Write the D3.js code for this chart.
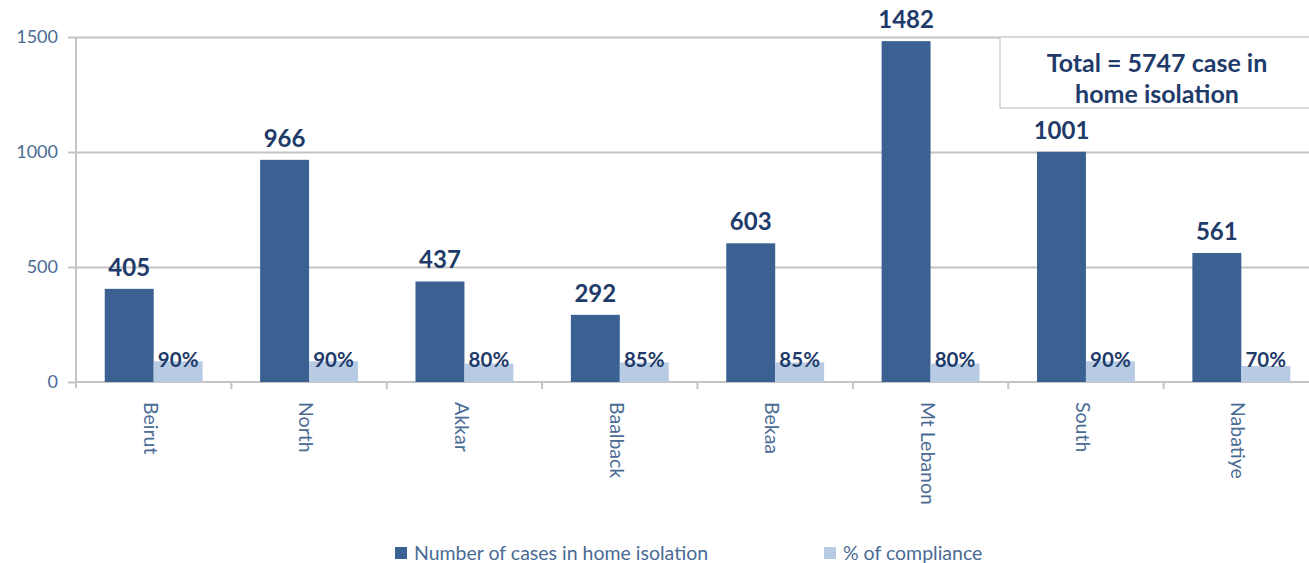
<html>
  <head>
    <style>
      body { margin: 0; background: #fff; }
      text { font-family: Lato, "Open Sans", sans-serif; }
    </style>
  </head>
  <body>
    <svg id="container" height="563" width="1309"></svg>
  </body>
  <script src="https://cdn.jsdelivr.net/npm/d3@7"></script>
  <script>
    let regions = ["Beirut", "North", "Akkar", "Baalback", "Bekaa", "Mt Lebanon", "South", "Nabatiye"];
    let casesInIsolation = [405, 966, 437, 292, 603, 1482, 1001, 561];
    let compliancePct = [90, 90, 80, 85, 85, 80, 90, 70];
    let yTicks = [0, 500, 1000, 1500];
    let seriesNames = ["Number of cases in home isolation", "% of compliance"];
    let totalNote = ["Total = 5747 case in", "home isolation"];

    let svg = d3.select("#container");
    let darkBlue = "#3a6191";
    let lightBlue = "#b7cbe4";
    let navy = "#1f3b6a";
    let axisText = "#4a6b94";
    let gridColor = "#c4c4c4";

    let plotLeft = 76, plotRight = 1319, plotTop = 37, plotBottom = 382;

    let xScale = d3.scaleBand()
        .domain(regions)
        .range([plotLeft, plotRight])
        .paddingInner(0.37)
        .paddingOuter(0.185);
    let sub = d3.scaleBand()
        .domain([0, 1])
        .range([0, xScale.bandwidth()]);
    let yScale = d3.scaleLinear()
        .domain([0, 1500])
        .range([plotBottom, plotTop]);

    // gridlines + y axis
    let yAxis = svg.append("g")
        .attr("transform", "translate(" + plotLeft + ",0)")
        .call(d3.axisLeft(yScale).tickValues(yTicks).tickSize(8).tickPadding(10).tickFormat(d3.format("d")));
    yAxis.select(".domain").attr("stroke", gridColor).attr("stroke-width", 2)
        .attr("d", "M0," + plotTop + "V" + (plotBottom + 6));
    yAxis.selectAll(".tick line").attr("stroke", gridColor).attr("stroke-width", 2);
    yAxis.selectAll(".tick text").attr("fill", axisText).style("font-size", "18px");
    yAxis.selectAll(".tick")
        .filter(d => d !== 0)
        .append("line")
        .attr("x1", 0).attr("x2", 1309 - plotLeft)
        .attr("stroke", gridColor).attr("stroke-width", 2);

    // x axis
    let xAxis = svg.append("g")
        .attr("transform", "translate(0," + plotBottom + ")");
    xAxis.append("line")
        .attr("x1", plotLeft).attr("x2", 1309)
        .attr("stroke", gridColor).attr("stroke-width", 2);
    xAxis.selectAll(".sep")
        .data(regions.slice(1))
        .join("line")
        .attr("x1", d => xScale(d) - xScale.step() * xScale.paddingInner() / 2)
        .attr("x2", d => xScale(d) - xScale.step() * xScale.paddingInner() / 2)
        .attr("y1", 0).attr("y2", 7)
        .attr("stroke", gridColor).attr("stroke-width", 2);
    xAxis.selectAll(".cat")
        .data(regions)
        .join("text")
        .attr("transform", d => "translate(" + (xScale(d) + xScale.bandwidth() / 2 - 3) + ",20) rotate(90)")
        .attr("dy", "0.35em")
        .attr("fill", axisText)
        .style("font-size", "19.5px")
        .text(d => d);

    // bars
    let groups = svg.selectAll(".grp")
        .data(regions)
        .join("g")
        .attr("transform", d => "translate(" + xScale(d) + ",0)");

    groups.append("rect")
        .attr("x", sub(0))
        .attr("width", sub.bandwidth())
        .attr("y", (d, i) => yScale(casesInIsolation[i]))
        .attr("height", (d, i) => plotBottom - yScale(casesInIsolation[i]))
        .attr("fill", darkBlue);

    groups.append("rect")
        .attr("x", sub(1))
        .attr("width", sub.bandwidth())
        .attr("y", (d, i) => yScale(compliancePct[i]))
        .attr("height", (d, i) => plotBottom - yScale(compliancePct[i]))
        .attr("fill", lightBlue);

    groups.append("text")
        .attr("x", sub(0) + sub.bandwidth() / 2)
        .attr("y", (d, i) => yScale(casesInIsolation[i]) - 13)
        .attr("text-anchor", "middle")
        .attr("fill", navy)
        .style("font-size", "24px")
        .style("font-weight", "bold")
        .text((d, i) => casesInIsolation[i]);

    groups.append("text")
        .attr("x", sub(1) + sub.bandwidth() / 2)
        .attr("y", plotBottom - 15)
        .attr("text-anchor", "middle")
        .attr("fill", navy)
        .style("font-size", "20.5px")
        .style("font-weight", "bold")
        .text((d, i) => compliancePct[i] + "%");

    // total box
    let box = svg.append("g");
    box.append("rect")
        .attr("x", 1000).attr("y", plotTop)
        .attr("width", 320).attr("height", 71)
        .attr("fill", "#fff").attr("stroke", "#d0d0d0").attr("stroke-width", 1.5);
    box.selectAll("text")
        .data(totalNote)
        .join("text")
        .attr("x", 1157)
        .attr("y", (d, i) => 72 + i * 31)
        .attr("text-anchor", "middle")
        .attr("fill", navy)
        .style("font-size", "25px")
        .style("font-weight", "bold")
        .text(d => d);

    // legend
    let legendX = [395, 824];
    let legend = svg.selectAll(".leg")
        .data(seriesNames)
        .join("g")
        .attr("transform", (d, i) => "translate(" + legendX[i] + ",547)");
    legend.append("rect")
        .attr("width", 12).attr("height", 12)
        .attr("fill", (d, i) => i === 0 ? darkBlue : lightBlue);
    legend.append("text")
        .attr("x", 19).attr("y", 13)
        .attr("fill", axisText)
        .style("font-size", "19.5px")
        .text(d => d);
  </script>
</html>
